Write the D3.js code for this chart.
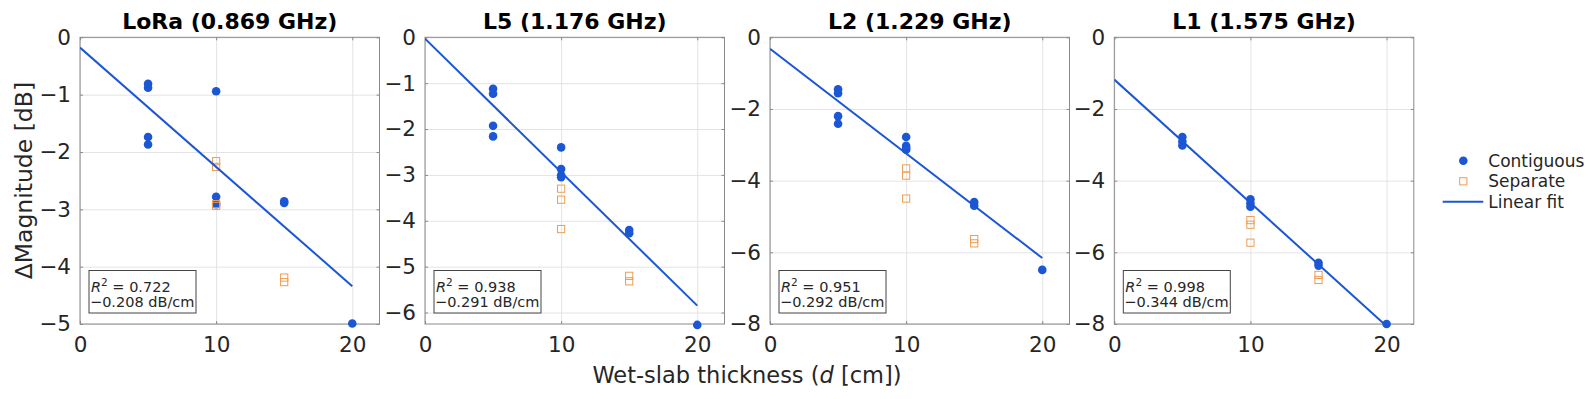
<!DOCTYPE html>
<html>
<head>
<meta charset="utf-8">
<script src="https://cdn.jsdelivr.net/npm/d3@7.9.0/dist/d3.min.js"></script>
<style>
  body { margin: 0; background: #fff; }
  svg { display: block; font-family: "DejaVu Sans", sans-serif; }
</style>
</head>
<body>
<svg id="chart" width="1594" height="399"></svg>
<script>
// panel settings
const titles = ['LoRa (0.869 GHz)', 'L5 (1.176 GHz)', 'L2 (1.229 GHz)', 'L1 (1.575 GHz)'];
const yMins = [-5, -6.25, -8, -8];
const yTickSteps = [1, 1, 2, 2];
const xTicks = [0, 10, 20];

// measured points, [thickness cm, delta dB]
const contiguous = [
  [[5, -0.81], [5, -0.88], [5, -1.74], [5, -1.87], [10, -0.94], [10, -2.78], [10, -2.91], [15, -2.86], [15, -2.89], [20, -4.99]],
  [[5, -1.12], [5, -1.23], [5, -1.93], [5, -2.16], [10, -2.40], [10, -2.87], [10, -3.01], [10, -3.05], [15, -4.20], [15, -4.27], [20, -6.27]],
  [[5, -1.45], [5, -1.56], [5, -2.20], [5, -2.41], [10, -2.78], [10, -3.03], [10, -3.10], [10, -3.14], [15, -4.60], [15, -4.70], [20, -6.49]],
  [[5, -2.78], [5, -2.91], [5, -3.02], [10, -4.52], [10, -4.63], [10, -4.73], [15, -6.29], [15, -6.37], [20, -8.0]]
];
const separate = [
  [[10, -2.16], [10, -2.26], [10, -2.91], [10, -2.94], [15, -4.19], [15, -4.27]],
  [[10, -3.30], [10, -3.54], [10, -4.18], [15, -5.20], [15, -5.32]],
  [[10, -3.66], [10, -3.86], [10, -4.50], [15, -5.63], [15, -5.75]],
  [[10, -5.10], [10, -5.23], [10, -5.73], [15, -6.63], [15, -6.77]]
];

// linear fits
const fitSlope = [-0.208, -0.291, -0.292, -0.344];
const fitIntercept = [-0.18, -0.03, -0.32, -1.18];
const r2 = ['0.722', '0.938', '0.951', '0.998'];

const blue = '#1b57d4';
const orange = '#ee9c52';
const axisGray = '#8a8a8a';
const textColor = '#262626';

const svg = d3.select('#chart');
const lefts = [80, 425, 770, 1114.3];
const width = 299.5;
const plotTop = 37.3, plotBottom = 324;
const fmt = d3.format('d');

titles.forEach((title, i) => {
  const x = d3.scaleLinear().domain([0, 22]).range([lefts[i], lefts[i] + width]);
  const y = d3.scaleLinear().domain([yMins[i], 0]).range([plotBottom, plotTop]);
  const yTicks = d3.range(0, yMins[i] - 0.001, -yTickSteps[i]);
  const g = svg.append('g');

  // grid
  g.append('g').attr('class', 'grid')
    .attr('transform', `translate(0,${plotBottom})`)
    .call(d3.axisBottom(x).tickValues(xTicks).tickSize(-(plotBottom - plotTop)).tickFormat(''));
  g.append('g').attr('class', 'grid')
    .attr('transform', `translate(${lefts[i]},0)`)
    .call(d3.axisLeft(y).tickValues(yTicks).tickSize(-width).tickFormat(''));
  g.selectAll('.grid line').attr('stroke', '#e3e3e3');

  // box
  g.append('rect')
    .attr('x', lefts[i]).attr('y', plotTop)
    .attr('width', width).attr('height', plotBottom - plotTop)
    .attr('fill', 'none').attr('stroke', axisGray);

  // axes with inward ticks
  g.append('g').attr('class', 'ax')
    .attr('transform', `translate(0,${plotBottom})`)
    .call(d3.axisBottom(x).tickValues(xTicks).tickFormat(fmt).tickSize(-3).tickPadding(13).tickSizeOuter(0));
  g.append('g').attr('class', 'ax')
    .attr('transform', `translate(0,${plotTop})`)
    .call(d3.axisTop(x).tickValues(xTicks).tickSize(-3).tickSizeOuter(0).tickFormat(''));
  g.append('g').attr('class', 'ax')
    .attr('transform', `translate(${lefts[i]},0)`)
    .call(d3.axisLeft(y).tickValues(yTicks).tickFormat(fmt).tickSize(-3).tickPadding(9).tickSizeOuter(0));
  g.append('g').attr('class', 'ax')
    .attr('transform', `translate(${lefts[i] + width},0)`)
    .call(d3.axisRight(y).tickValues(yTicks).tickSize(-3).tickSizeOuter(0).tickFormat(''));
  g.selectAll('.domain').remove();
  g.selectAll('.ax line').attr('stroke', axisGray);
  g.selectAll('.tick text').attr('fill', textColor).attr('font-size', 21.5).attr('font-family', 'DejaVu Sans');

  // title
  g.append('text')
    .attr('x', lefts[i] + width / 2).attr('y', 29)
    .attr('text-anchor', 'middle')
    .attr('font-size', 22).attr('font-weight', 'bold').attr('fill', '#000')
    .text(title);

  // points
  g.selectAll('circle.contig')
    .data(contiguous[i]).join('circle')
    .attr('cx', d => x(d[0])).attr('cy', d => y(d[1]))
    .attr('r', 4.3).attr('fill', blue);
  g.selectAll('rect.sep')
    .data(separate[i]).join('rect')
    .attr('x', d => x(d[0]) - 3.6).attr('y', d => y(d[1]) - 3.6)
    .attr('width', 7.2).attr('height', 7.2)
    .attr('fill', 'none').attr('stroke', orange).attr('stroke-width', 1);

  // fit line, clipped to axes
  const clipId = `clip${i}`;
  svg.append('clipPath').attr('id', clipId)
    .append('rect').attr('x', lefts[i]).attr('y', plotTop)
    .attr('width', width).attr('height', plotBottom - plotTop);
  const fitPts = [0, 20].map(t => [t, fitIntercept[i] + fitSlope[i] * t]);
  g.append('path')
    .attr('d', d3.line().x(d => x(d[0])).y(d => y(d[1]))(fitPts))
    .attr('clip-path', `url(#${clipId})`)
    .attr('stroke', blue).attr('stroke-width', 2).attr('fill', 'none');

  // annotation box
  const bx = lefts[i] + 9, by = 270.5;
  g.append('rect')
    .attr('x', bx).attr('y', by).attr('width', 107).attr('height', 42.5)
    .attr('fill', '#fff').attr('stroke', '#444').attr('stroke-width', 1);
  const t1 = g.append('text').attr('x', bx + 2).attr('y', by + 21)
    .attr('font-size', 14.5).attr('fill', textColor);
  t1.append('tspan').attr('font-style', 'italic').text('R');
  t1.append('tspan').attr('dy', -6).attr('font-size', 10.5).text('2');
  t1.append('tspan').attr('dy', 6).text(` = ${r2[i]}`);
  g.append('text').attr('x', bx + 1).attr('y', by + 36.5)
    .attr('font-size', 14.5).attr('fill', textColor)
    .text(`${d3.format('.3f')(fitSlope[i]).replace('-', '−')} dB/cm`);
});

// axis labels
svg.append('text')
  .attr('transform', `translate(31.5,${(plotTop + plotBottom) / 2}) rotate(-90)`)
  .attr('text-anchor', 'middle').attr('font-size', 23.5).attr('fill', textColor)
  .text('ΔMagnitude [dB]');
const xl = svg.append('text')
  .attr('x', 747).attr('y', 383)
  .attr('text-anchor', 'middle').attr('font-size', 22.5).attr('fill', textColor);
xl.append('tspan').text('Wet-slab thickness (');
xl.append('tspan').attr('font-style', 'italic').text('d');
xl.append('tspan').text(' [cm])');

// legend
const lg = svg.append('g').attr('font-size', 17).attr('fill', textColor);
lg.append('circle').attr('cx', 1463.3).attr('cy', 160.7).attr('r', 4.3).attr('fill', blue);
lg.append('rect').attr('x', 1459.7).attr('y', 177.7).attr('width', 7.2).attr('height', 7.2)
  .attr('fill', 'none').attr('stroke', orange);
lg.append('line').attr('x1', 1442.7).attr('x2', 1483.3).attr('y1', 201.7).attr('y2', 201.7)
  .attr('stroke', blue).attr('stroke-width', 2);
['Contiguous', 'Separate', 'Linear fit'].forEach((name, k) => {
  lg.append('text').attr('x', 1488.3).attr('y', [160.7, 181.3, 201.7][k])
    .attr('dy', '0.35em').text(name);
});
</script>
</body>
</html>
